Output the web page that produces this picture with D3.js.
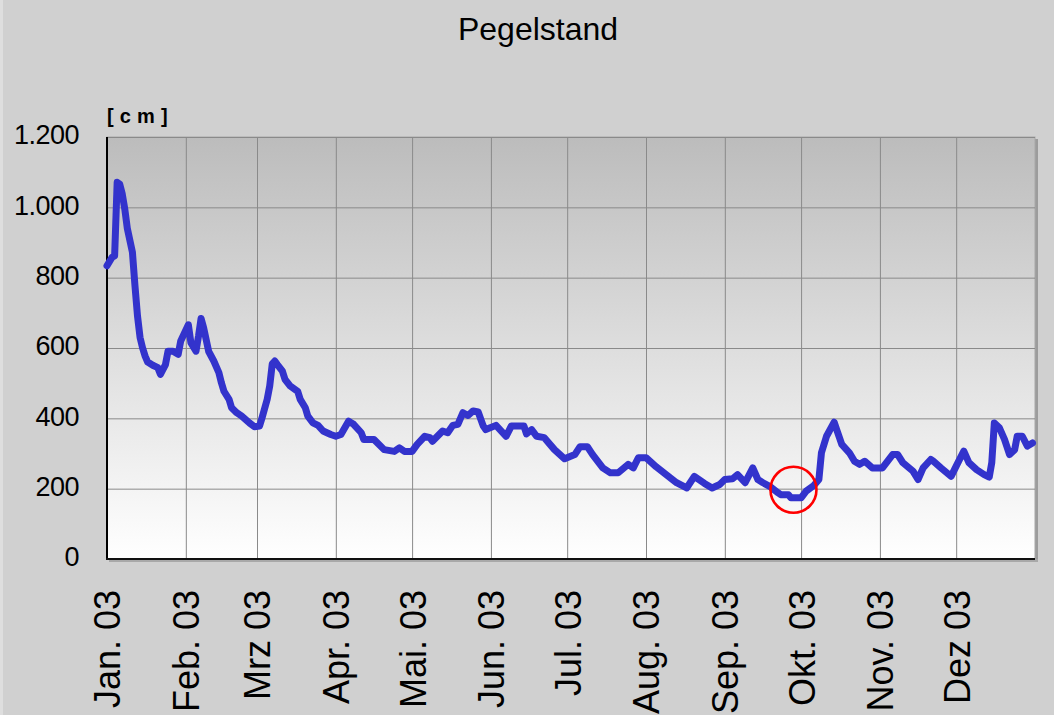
<!DOCTYPE html>
<html>
<head>
<meta charset="utf-8">
<script src="https://cdn.jsdelivr.net/npm/d3@7"></script>
<style>
  html, body { margin: 0; padding: 0; background: #d0d0d0; }
  svg { display: block; font-family: "Liberation Sans", Arial, sans-serif; }
</style>
</head>
<body>
<div id="chart"></div>
<script>
// Pegelstand 2003, Werte in cm
const dates = [
  "2003-01-01","2003-01-03","2003-01-04","2003-01-05","2003-01-06","2003-01-07","2003-01-08","2003-01-09",
  "2003-01-11","2003-01-12","2003-01-13","2003-01-14","2003-01-15","2003-01-16","2003-01-17","2003-01-19",
  "2003-01-21","2003-01-22","2003-01-24","2003-01-25","2003-01-27","2003-01-29","2003-01-30","2003-02-02",
  "2003-02-03","2003-02-05","2003-02-06","2003-02-07","2003-02-08","2003-02-10","2003-02-12","2003-02-14",
  "2003-02-15","2003-02-16","2003-02-18","2003-02-19","2003-02-21","2003-02-23","2003-02-26","2003-02-28",
  "2003-03-02","2003-03-03","2003-03-05","2003-03-06","2003-03-07","2003-03-08","2003-03-09","2003-03-11",
  "2003-03-12","2003-03-14","2003-03-17","2003-03-18","2003-03-20","2003-03-21","2003-03-23","2003-03-25",
  "2003-03-27","2003-03-30","2003-04-01","2003-04-03","2003-04-06","2003-04-08","2003-04-11","2003-04-12",
  "2003-04-16","2003-04-20","2003-04-24","2003-04-26","2003-04-28","2003-05-01","2003-05-03","2003-05-06",
  "2003-05-08","2003-05-09","2003-05-13","2003-05-15","2003-05-17","2003-05-19","2003-05-21","2003-05-23",
  "2003-05-25","2003-05-27","2003-05-29","2003-05-30","2003-06-03","2003-06-07","2003-06-09","2003-06-14",
  "2003-06-15","2003-06-17","2003-06-19","2003-06-22","2003-06-26","2003-06-30","2003-07-04","2003-07-06",
  "2003-07-09","2003-07-11","2003-07-15","2003-07-18","2003-07-21","2003-07-25","2003-07-27","2003-07-29",
  "2003-08-01","2003-08-05","2003-08-08","2003-08-13","2003-08-17","2003-08-20","2003-08-24","2003-08-27",
  "2003-08-30","2003-09-01","2003-09-04","2003-09-06","2003-09-09","2003-09-12","2003-09-14","2003-09-16",
  "2003-09-19","2003-09-22","2003-09-23","2003-09-26","2003-09-27","2003-10-01","2003-10-03","2003-10-06",
  "2003-10-08","2003-10-09","2003-10-11","2003-10-14","2003-10-15","2003-10-17","2003-10-20","2003-10-22",
  "2003-10-24","2003-10-26","2003-10-29","2003-11-02","2003-11-06","2003-11-08","2003-11-10","2003-11-14",
  "2003-11-16","2003-11-18","2003-11-21","2003-11-22","2003-11-25","2003-11-29","2003-12-01","2003-12-04",
  "2003-12-06","2003-12-09","2003-12-12","2003-12-14","2003-12-15","2003-12-16","2003-12-18","2003-12-20",
  "2003-12-22","2003-12-24","2003-12-25","2003-12-27","2003-12-29","2003-12-31"
];
const levels = [
  834, 858, 862, 1071, 1066, 1038, 995, 940,
  872, 777, 691, 630, 600, 577, 560, 551,
  544, 525, 553, 591, 591, 582, 620, 666,
  615, 591, 634, 684, 658, 590, 563, 530,
  501, 477, 454, 430, 416, 406, 387, 376,
  378, 402, 454, 492, 555, 563, 553, 534,
  511, 492, 477, 454, 430, 406, 387, 380,
  364, 354, 349, 354, 392, 383, 359, 340,
  340, 311, 306, 316, 306, 306, 326, 349,
  345, 335, 364, 359, 380, 383, 416, 408,
  421, 418, 378, 368, 380, 349, 378, 378,
  356, 368, 349, 345, 311, 285, 297, 319,
  319, 297, 259, 245, 245, 269, 259, 288,
  288, 262, 245, 217, 202, 235, 215, 202,
  212, 226, 228, 240, 217, 259, 226, 217,
  205, 188, 183, 183, 174, 174, 193, 209,
  226, 302, 349, 389, 368, 326, 302, 278,
  269, 278, 259, 259, 297, 297, 274, 250,
  226, 259, 283, 278, 259, 235, 264, 307,
  274, 254, 240, 233, 274, 387, 373, 340,
  297, 311, 349, 349, 321, 330
];

const monthTicks = ["2003-01-01","2003-02-01","2003-03-01","2003-04-01","2003-05-01","2003-06-01",
                    "2003-07-01","2003-08-01","2003-09-01","2003-10-01","2003-11-01","2003-12-01"];
const monthLabels = ["Jan. 03","Feb. 03","Mrz 03","Apr. 03","Mai. 03","Jun. 03",
                     "Jul. 03","Aug. 03","Sep. 03","Okt. 03","Nov. 03","Dez 03"];
const yTicks = [0, 200, 400, 600, 800, 1000, 1200];

// markierter Tiefststand
const markDate = "2003-09-28";
const markLevel = 197;

const width = 1054, height = 715;
const margin = { top: 137, right: 19, bottom: 156, left: 107 };
const innerWidth  = width  - margin.left - margin.right;
const innerHeight = height - margin.top  - margin.bottom;

const parse = d3.timeParse("%Y-%m-%d");
const data = dates.map((d, i) => ({ date: parse(d), level: levels[i] }));

const de = d3.formatLocale({ decimal: ",", thousands: ".", grouping: [3], currency: ["", " €"] });

const svg = d3.select("#chart")
  .append("svg")
    .attr("width", width)
    .attr("height", height);

const defs = svg.append("defs");
const grad = defs.append("linearGradient")
    .attr("id", "plotBg")
    .attr("x1", 0).attr("y1", 0).attr("x2", 0).attr("y2", 1);
grad.append("stop").attr("offset", "0%").attr("stop-color", "#bcbcbc");
grad.append("stop").attr("offset", "100%").attr("stop-color", "#ffffff");

svg.append("rect")
    .attr("width", width).attr("height", height)
    .attr("fill", "#d0d0d0");
svg.append("line")
    .attr("x1", 1.5).attr("x2", 1.5).attr("y1", 0).attr("y2", height)
    .attr("stroke", "#dedede").attr("stroke-width", 3);

const g = svg.append("g")
    .attr("transform", `translate(${margin.left},${margin.top})`);

const x = d3.scaleTime()
    .domain([parse("2003-01-01"), parse("2004-01-01")])
    .range([0, innerWidth]);

const y = d3.scaleLinear()
    .domain([0, 1200])
    .range([innerHeight, 0]);

// Zeichenfläche + Schatten rechts / unten
g.append("rect")
    .attr("x", innerWidth).attr("y", 2)
    .attr("width", 3).attr("height", innerHeight + 1)
    .attr("fill", "#9c9c9c");
g.append("rect")
    .attr("x", 2).attr("y", innerHeight)
    .attr("width", innerWidth + 1).attr("height", 3)
    .attr("fill", "#a8a8a8");
g.append("rect")
    .attr("width", innerWidth).attr("height", innerHeight)
    .attr("fill", "url(#plotBg)")
    .attr("stroke", "#a8a8a8")
    .attr("stroke-width", 1);

// Gitter
g.append("g")
    .attr("class", "grid-y")
    .call(d3.axisLeft(y).tickValues(yTicks).tickSize(-innerWidth).tickFormat(""))
    .call(s => s.select(".domain").remove())
    .call(s => s.selectAll("line").attr("stroke", "#8a8a8a").attr("stroke-width", 1));

g.append("g")
    .attr("class", "grid-x")
    .attr("transform", `translate(0,${innerHeight})`)
    .call(d3.axisBottom(x).tickValues(monthTicks.map(parse)).tickSize(-innerHeight).tickFormat(""))
    .call(s => s.select(".domain").remove())
    .call(s => s.selectAll("line").attr("stroke", "#8a8a8a").attr("stroke-width", 1));

// Achsenlinien
g.append("line")
    .attr("x1", 0).attr("x2", 0).attr("y1", 0).attr("y2", innerHeight + 1)
    .attr("stroke", "#000").attr("stroke-width", 2);
g.append("line")
    .attr("x1", -1).attr("x2", innerWidth).attr("y1", innerHeight).attr("y2", innerHeight)
    .attr("stroke", "#111").attr("stroke-width", 2);

// Pegellinie
const line = d3.line()
    .x(d => x(d.date))
    .y(d => y(d.level));

g.append("path")
    .datum(data)
    .attr("fill", "none")
    .attr("stroke", "#3333cc")
    .attr("stroke-width", 7)
    .attr("stroke-linejoin", "round")
    .attr("stroke-linecap", "round")
    .attr("d", line);

// roter Kreis
g.append("circle")
    .attr("cx", x(parse(markDate)))
    .attr("cy", y(markLevel))
    .attr("r", 23)
    .attr("fill", "none")
    .attr("stroke", "#ff0000")
    .attr("stroke-width", 2.6);

// y-Achse Beschriftung
g.append("g")
    .attr("class", "y-axis")
    .call(d3.axisLeft(y).tickValues(yTicks).tickSize(0).tickPadding(28).tickFormat(de.format(",")))
    .call(s => s.select(".domain").remove())
    .call(s => s.selectAll("text")
        .attr("fill", "#000")
        .attr("font-size", 27)
        .attr("font-family", "Liberation Sans, Arial, sans-serif")
        .attr("letter-spacing", -0.5)
        .attr("dy", "0.25em"));

// x-Achse Beschriftung
g.append("g")
    .attr("class", "x-axis")
    .attr("transform", `translate(0,${innerHeight})`)
    .call(d3.axisBottom(x).tickValues(monthTicks.map(parse)).tickSize(0)
        .tickFormat((d, i) => monthLabels[i]))
    .call(s => s.select(".domain").remove())
    .call(s => s.selectAll("text")
        .attr("fill", "#000")
        .attr("font-size", 36)
        .attr("font-family", "Liberation Sans, Arial, sans-serif")
        .attr("text-anchor", "end")
        .attr("transform", "rotate(-90)")
        .attr("x", -31)
        .attr("y", 0)
        .attr("dy", "0.36em"));

// Einheit
svg.append("text")
    .attr("x", margin.left)
    .attr("y", 123)
    .attr("font-size", 20)
    .attr("font-weight", "bold")
    .attr("letter-spacing", 0.3)
    .attr("fill", "#000")
    .text("[ c m ]");

// Titel
svg.append("text")
    .attr("x", 538)
    .attr("y", 40)
    .attr("text-anchor", "middle")
    .attr("font-size", 32)
    .attr("fill", "#000")
    .text("Pegelstand");
</script>
</body>
</html>
